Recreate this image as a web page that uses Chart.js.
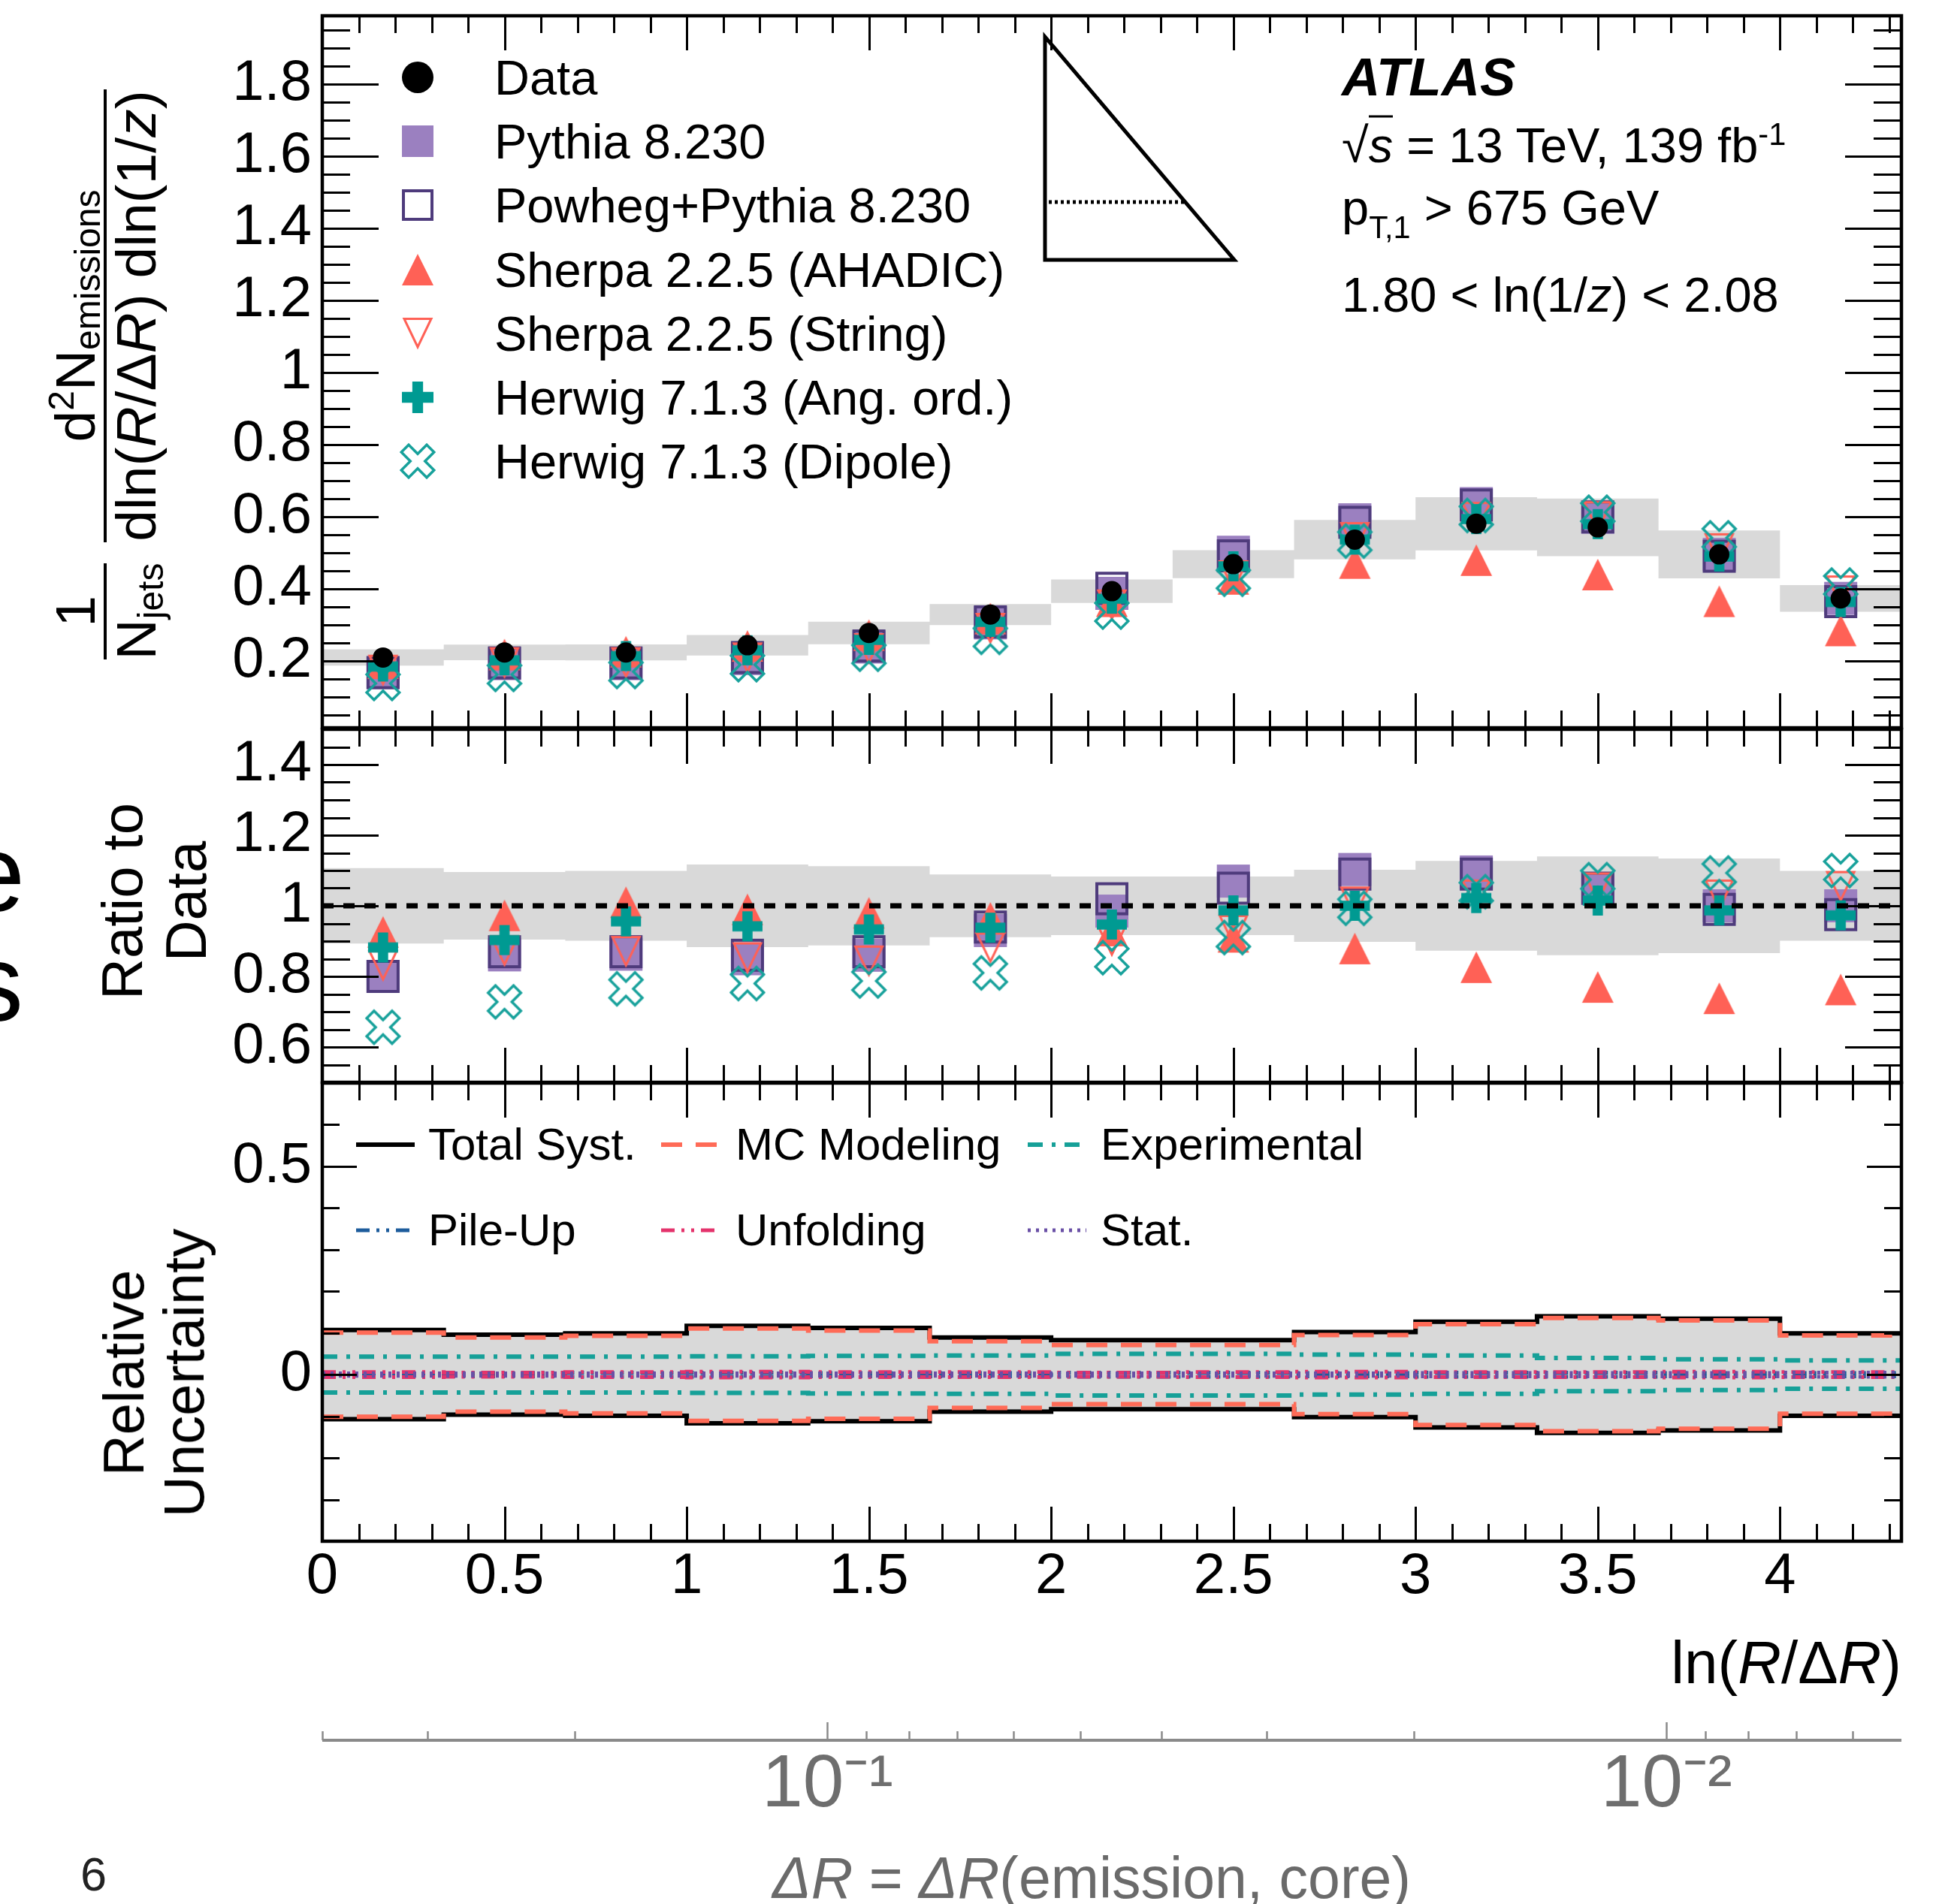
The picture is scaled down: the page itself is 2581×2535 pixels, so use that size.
<!DOCTYPE html>
<html>
<head>
<meta charset="utf-8">
<title>Lund plane slice, 1.80 &lt; ln(1/z) &lt; 2.08</title>
<script src="https://cdn.jsdelivr.net/npm/chart.js@4.4.1/dist/chart.umd.min.js"></script>
<style>
  html, body { margin: 0; padding: 0; background: #fff; }
  #page { position: relative; width: 2581px; height: 2535px; overflow: hidden;
          font-family: "Liberation Sans", Arial, Helvetica, sans-serif; color: #000; }
  #page canvas.panel { position: absolute; left: 0; }
  .t { position: absolute; white-space: nowrap; line-height: 1; transform: translateY(-50%); }
  .t sub, .t sup, #ytitle sub, #ytitle sup { line-height: 0; font-size: 0.64em; }
  .rot { position: absolute; white-space: nowrap; text-align: center; font-size: 76px;
         transform: translate(-50%, -50%) rotate(-90deg); }
  #ytitle { position: absolute; left: 0; top: 0; transform-origin: 0 0;
            transform: translate(60px, 878px) rotate(-90deg);
            display: flex; align-items: flex-start; font-size: 75px; line-height: 1; white-space: nowrap; }
  .frac { display: flex; flex-direction: column; align-items: center; }
  .frac .num { height: 78px; display: flex; align-items: flex-end; }
  .frac .bar { height: 4px; width: 100%; background: #000; }
  .frac .den { height: 80px; padding-top: 2px; }
  .ov { border-top: 3px solid #000; }
  .big { position: absolute; left: -200px; font-size: 144px; line-height: 1; text-align: right; }
</style>
</head>
<body>
<div id="page">
  <canvas id="top" class="panel" width="2581" height="990" style="top:0"></canvas>
  <canvas id="ratio" class="panel" width="2581" height="512" style="top:950px"></canvas>
  <canvas id="unc" class="panel" width="2581" height="730" style="top:1422px"></canvas>
  <canvas id="dr" class="panel" width="2581" height="170" style="top:2270px"></canvas>

  <!-- Lund plane sketch -->
  <svg style="position:absolute;left:0;top:0" width="2581" height="420">
    <path d="M1391 49 L1391 346 L1643 346 Z" fill="none" stroke="#000" stroke-width="5"/>
    <line x1="1396" y1="269" x2="1577" y2="269" stroke="#000" stroke-width="5" stroke-dasharray="4 4"/>
  </svg>

  <div class="t" style="left:1786px;top:102px;font-size:71px;font-weight:bold;font-style:italic">ATLAS</div>
  <div class="t" style="left:1786px;top:193px;font-size:65px">√<span class="ov"><i>s</i></span> = 13 TeV, 139 fb<sup>-1</sup></div>
  <div class="t" style="left:1786px;top:276px;font-size:65px">p<sub style="vertical-align:-0.45em">T,1</sub> &gt; 675 GeV</div>
  <div class="t" style="left:1786px;top:392px;font-size:65px">1.80 &lt; ln(1/<i>z</i>) &lt; 2.08</div>

  <div id="ytitle">
    <div class="frac" style="width:128px">
      <div class="num"><span>1</span></div><div class="bar"></div>
      <div class="den">N<sub style="vertical-align:-10px;font-size:48px">jets</sub></div>
    </div>
    <div style="width:28px"></div>
    <div class="frac" style="width:603px">
      <div class="num"><span>d<sup style="vertical-align:28px;font-size:48px">2</sup>N<sub style="vertical-align:-7px;font-size:48px">emissions</sub></span></div>
      <div class="bar"></div>
      <div class="den">dln(<i>R</i>/Δ<i>R</i>) dln(1/<i>z</i>)</div>
    </div>
  </div>
  <div class="rot" style="left:205px;top:1200px;line-height:85px">Ratio to<br>Data</div>
  <div class="rot" style="left:205px;top:1828px;line-height:80px">Relative<br>Uncertainty</div>

  <div class="t" style="right:50px;top:2214px;font-size:80px">ln(<i>R</i>/Δ<i>R</i>)</div>
  <div class="t" style="left:1453px;top:2500px;font-size:77px;color:#6a6a6a;transform:translate(-50%,-50%)"><i>ΔR</i> = <i>ΔR</i>(emission, core)</div>
  <div class="t" style="left:107px;top:2495px;font-size:63px;color:#222">6</div>
  <div class="big" style="top:1092px;width:233px">e</div>
  <div class="big" style="top:1238px;width:231px">s</div>
</div>

<script>
// bins in ln(R/dR), width 1/3
const binEdges = [0, 1/3, 2/3, 1, 4/3, 5/3, 2, 7/3, 8/3, 3, 10/3, 11/3, 4, 13/3];
const binCenters = [1/6, 1/2, 5/6, 7/6, 3/2, 11/6, 13/6, 5/2, 17/6, 19/6, 7/2, 23/6, 25/6];

const seriesNames = ['Data', 'Pythia 8.230', 'Powheg+Pythia 8.230', 'Sherpa 2.2.5 (AHADIC)',
  'Sherpa 2.2.5 (String)', 'Herwig 7.1.3 (Ang. ord.)', 'Herwig 7.1.3 (Dipole)'];

// top panel: 1/Njets d2N/dln(R/dR)dln(1/z)
const dataVals   = [0.210, 0.224, 0.224, 0.244, 0.278, 0.329, 0.394, 0.469, 0.537, 0.581, 0.571, 0.496, 0.374];
const pythiaVals = [0.168, 0.193, 0.193, 0.207, 0.239, 0.306, 0.388, 0.502, 0.592, 0.637, 0.599, 0.496, 0.374];
const powhegVals = [0.168, 0.195, 0.195, 0.210, 0.242, 0.309, 0.402, 0.492, 0.585, 0.633, 0.600, 0.491, 0.365];
const ahadicVals = [0.194, 0.218, 0.226, 0.242, 0.272, 0.318, 0.366, 0.428, 0.472, 0.480, 0.440, 0.366, 0.285];
const stringVals = [0.174, 0.195, 0.195, 0.208, 0.234, 0.290, 0.355, 0.436, 0.542, 0.598, 0.600, 0.511, 0.394];
const angVals    = [0.185, 0.202, 0.214, 0.230, 0.259, 0.309, 0.373, 0.463, 0.537, 0.594, 0.580, 0.490, 0.364];
const dipoleVals = [0.138, 0.163, 0.171, 0.190, 0.219, 0.266, 0.336, 0.427, 0.533, 0.604, 0.613, 0.542, 0.411];

// middle panel: MC / data
const pythiaRatio = [0.800, 0.861, 0.863, 0.850, 0.860, 0.930, 0.985, 1.070, 1.103, 1.096, 1.049, 1.000, 1.000];
const powhegRatio = [0.800, 0.870, 0.870, 0.860, 0.870, 0.940, 1.020, 1.050, 1.090, 1.090, 1.050, 0.990, 0.975];
const ahadicRatio = [0.926, 0.973, 1.010, 0.990, 0.980, 0.966, 0.930, 0.912, 0.879, 0.826, 0.770, 0.738, 0.763];
const stringRatio = [0.830, 0.872, 0.870, 0.852, 0.843, 0.880, 0.900, 0.930, 1.010, 1.030, 1.050, 1.030, 1.054];
const angRatio    = [0.882, 0.903, 0.956, 0.942, 0.933, 0.938, 0.947, 0.987, 1.000, 1.022, 1.015, 0.987, 0.973];
const dipoleRatio = [0.656, 0.728, 0.765, 0.780, 0.787, 0.810, 0.853, 0.910, 0.993, 1.040, 1.074, 1.093, 1.100];

// bottom panel: relative uncertainties
const uncNames = ['Total Syst.', 'MC Modeling', 'Experimental', 'Pile-Up', 'Unfolding', 'Stat.'];
const totalSyst    = [0.107, 0.096, 0.099, 0.117, 0.112, 0.089, 0.083, 0.083, 0.102, 0.127, 0.140, 0.134, 0.099];
const mcModeling   = [0.101, 0.089, 0.093, 0.111, 0.106, 0.080, 0.071, 0.071, 0.095, 0.121, 0.136, 0.130, 0.094];
const experimental = [0.043, 0.043, 0.043, 0.044, 0.045, 0.046, 0.050, 0.050, 0.048, 0.046, 0.040, 0.037, 0.034];
const pileUp       = [0.004, 0.004, 0.005, 0.005, 0.004, 0.004, 0.005, 0.005, 0.004, 0.005, 0.005, 0.004, 0.004];
const unfolding    = [0.006, 0.005, 0.006, 0.007, 0.006, 0.006, 0.005, 0.006, 0.007, 0.006, 0.006, 0.007, 0.006];
const statUnc      = [0.003, 0.003, 0.003, 0.003, 0.003, 0.003, 0.003, 0.003, 0.003, 0.004, 0.004, 0.004, 0.005];

// axis ticks
const xMajorTicks = [0, 0.5, 1, 1.5, 2, 2.5, 3, 3.5, 4];
const topYTicks = [0.2, 0.4, 0.6, 0.8, 1, 1.2, 1.4, 1.6, 1.8];
const ratioYTicks = [0.6, 0.8, 1, 1.2, 1.4];
const uncYTicks = [0, 0.5];
const drTicks = [0.4, 0.3, 0.2, 0.1, 0.09, 0.08, 0.07, 0.06, 0.05, 0.04, 0.03, 0.02, 0.01, 0.009, 0.008, 0.007, 0.006];
const drLabels = { 0.1: '10⁻¹', 0.01: '10⁻²' };

const C = { pythia: '#9b80c0', powheg: '#4e3b7c', sherpa: '#ff6156', herwig: '#009a92',
            dipole: '#17a19b', band: '#d9d9d9' };
const uncStyles = [
  { color: '#000000', width: 6, dash: [] },
  { color: '#ff6b57', width: 6, dash: [28, 18] },
  { color: '#16a098', width: 6, dash: [20, 12, 5, 12] },
  { color: '#1d5c9c', width: 5, dash: [18, 9, 4, 9, 4, 9] },
  { color: '#e4336c', width: 5, dash: [18, 9, 4, 9, 4, 9] },
  { color: '#6a50a6', width: 5, dash: [4, 7] }
];

const LEFT = 429;      // left edge of the frames
const RIGHT_PAD = 50;  // canvas right edge minus frame right edge

Chart.defaults.font.family = '"Liberation Sans", Arial, Helvetica, sans-serif';
Chart.defaults.color = '#000';

function range(a, b, step) {
  const out = [];
  for (let v = a; v <= b + 1e-9; v += step) out.push(+v.toFixed(4));
  return out;
}

// ROOT style markers drawn once into small canvases
function mk(kind, size, color, lw) {
  const c = document.createElement('canvas');
  const s = Math.ceil(size) + 6;
  c.width = s; c.height = s;
  const g = c.getContext('2d');
  const h = size / 2;
  g.translate(s / 2, s / 2);
  g.fillStyle = color; g.strokeStyle = color; g.lineWidth = lw || 1; g.lineJoin = 'miter';
  g.beginPath();
  if (kind === 'circle') { g.arc(0, 0, h, 0, 2 * Math.PI); g.fill(); }
  else if (kind === 'square') { g.rect(-h, -h, size, size); g.fill(); }
  else if (kind === 'osquare') { g.rect(-h + lw / 2, -h + lw / 2, size - lw, size - lw); g.stroke(); }
  else if (kind === 'tri') { g.moveTo(0, -h); g.lineTo(h, h); g.lineTo(-h, h); g.closePath(); g.fill(); }
  else if (kind === 'otri') {
    const k = h - lw;
    g.moveTo(-k, -h + lw / 2); g.lineTo(k, -h + lw / 2); g.lineTo(0, h - lw); g.closePath(); g.stroke();
  }
  else if (kind === 'plus') {
    const w = size * 0.17;
    g.rect(-w, -h, 2 * w, size); g.rect(-h, -w, size, 2 * w); g.fill();
  }
  else if (kind === 'ox') {
    const w = size * 0.15, L = size / Math.SQRT2 - w - lw / 2;
    g.rotate(Math.PI / 4);
    const pts = [[w, -L], [w, -w], [L, -w], [L, w], [w, w], [w, L], [-w, L], [-w, w], [-L, w], [-L, -w], [-w, -w], [-w, -L]];
    pts.forEach(([px, py], i) => (i ? g.lineTo(px, py) : g.moveTo(px, py)));
    g.closePath(); g.stroke();
  }
  return c;
}

const markers = {
  pythia: mk('square', 44, C.pythia),
  powheg: mk('osquare', 44, C.powheg, 4),
  ahadic: mk('tri', 42, C.sherpa),
  string: mk('otri', 42, C.sherpa, 3),
  ang: mk('plus', 40, C.herwig),
  dipole: mk('ox', 46, C.dipole, 3.5)
};

function pointsAt(vals) { return vals.map((v, i) => ({ x: binCenters[i], y: v })); }
function stepPoints(vals) {
  const pts = vals.map((v, i) => ({ x: binEdges[i], y: v }));
  pts.push({ x: binEdges[vals.length], y: vals[vals.length - 1] });
  return pts;
}

// frame + inward ticks on all four sides, ROOT style
function frameTicks(cfg) {
  return {
    id: 'frameTicks',
    afterDatasetsDraw(chart) {
      const { ctx, chartArea: a, scales: { x, y } } = chart;
      ctx.save();
      ctx.strokeStyle = '#000';
      ctx.lineWidth = 3;
      ctx.beginPath();
      const xs = [...range(0, 4.3, 0.1).map(v => [v, 23]), ...xMajorTicks.map(v => [v, 46])];
      xs.forEach(([v, len]) => {
        const px = Math.round(x.getPixelForValue(v)) + 0.5;
        if (px < a.left || px > a.right) return;
        ctx.moveTo(px, a.bottom); ctx.lineTo(px, a.bottom - len);
        ctx.moveTo(px, a.top); ctx.lineTo(px, a.top + len);
      });
      const ys = [...cfg.yMinor.map(v => [v, cfg.yLen[1]]), ...cfg.yMajor.map(v => [v, cfg.yLen[0]])];
      ys.forEach(([v, len]) => {
        const py = Math.round(y.getPixelForValue(v)) + 0.5;
        if (py <= a.top + 2 || py >= a.bottom - 2) return;
        ctx.moveTo(a.left, py); ctx.lineTo(a.left + len, py);
        ctx.moveTo(a.right, py); ctx.lineTo(a.right - len, py);
      });
      ctx.stroke();
      ctx.lineWidth = 4.5;
      ctx.strokeRect(a.left, a.top, a.right - a.left, a.bottom - a.top);
      ctx.restore();
    }
  };
}

function yAxis(min, max, ticks) {
  return {
    type: 'linear', min, max, bounds: 'data',
    grid: { display: false, drawTicks: false },
    border: { display: false },
    afterBuildTicks: s => { s.ticks = ticks.map(v => ({ value: v })); },
    afterFit: s => { s.width = LEFT; s.paddingTop = 0; s.paddingBottom = 0; },
    ticks: { autoSkip: false, padding: 14, font: { size: 76 }, color: '#000',
             callback: v => String(Number(Number(v).toFixed(2))) }
  };
}
const xHidden = { type: 'linear', min: 0, max: 13 / 3, display: false };

function baseOptions(padding, scales) {
  return {
    responsive: false, animation: false, devicePixelRatio: 1, events: [],
    layout: { padding },
    plugins: { legend: { display: false }, tooltip: { enabled: false } },
    scales
  };
}

function markerSet(vals) {
  return [
    { data: pointsAt(vals[5]), showLine: false, pointStyle: markers.ang, pointRadius: 20, order: 1 },
    { data: pointsAt(vals[6]), showLine: false, pointStyle: markers.dipole, pointRadius: 20, order: 2 },
    { data: pointsAt(vals[4]), showLine: false, pointStyle: markers.string, pointRadius: 20, order: 3 },
    { data: pointsAt(vals[3]), showLine: false, pointStyle: markers.ahadic, pointRadius: 20, order: 4 },
    { data: pointsAt(vals[2]), showLine: false, pointStyle: markers.powheg, pointRadius: 20, order: 5 },
    { data: pointsAt(vals[1]), showLine: false, pointStyle: markers.pythia, pointRadius: 20, order: 6 }
  ];
}
function band(hi, lo) {
  return [
    { data: stepPoints(hi), stepped: 'before', borderWidth: 0, pointRadius: 0, fill: '+1', backgroundColor: C.band, order: 20 },
    { data: stepPoints(lo), stepped: 'before', borderWidth: 0, pointRadius: 0, fill: false, order: 21 }
  ];
}

// ---- top panel
new Chart(document.getElementById('top'), {
  type: 'line',
  data: {
    datasets: [
      ...band(dataVals.map((v, i) => v * (1 + totalSyst[i])), dataVals.map((v, i) => v * (1 - totalSyst[i]))),
      { data: pointsAt(dataVals), showLine: false, pointStyle: 'circle', pointRadius: 13.5,
        pointBackgroundColor: '#000', pointBorderWidth: 0, order: 0 },
      ...markerSet([dataVals, pythiaVals, powhegVals, ahadicVals, stringVals, angVals, dipoleVals])
    ]
  },
  options: baseOptions({ top: 16, right: RIGHT_PAD, bottom: 20, left: 0 },
    { x: xHidden, y: yAxis(0.015, 1.99, topYTicks) }),
  plugins: [frameTicks({ yMajor: topYTicks, yMinor: range(0.05, 1.95, 0.05), yLen: [75, 37] })]
});

// ---- ratio panel
new Chart(document.getElementById('ratio'), {
  type: 'line',
  data: {
    datasets: [
      ...band(totalSyst.map(u => 1 + u), totalSyst.map(u => 1 - u)),
      { data: [{ x: binEdges[0], y: 1 }, { x: binEdges[13], y: 1 }], borderColor: '#000', borderWidth: 7,
        borderDash: [15, 13], pointRadius: 0, order: 0 },
      ...markerSet([null, pythiaRatio, powhegRatio, ahadicRatio, stringRatio, angRatio, dipoleRatio])
    ]
  },
  options: baseOptions({ top: 20, right: RIGHT_PAD, bottom: 20, left: 0 },
    { x: xHidden, y: yAxis(0.5, 1.5, ratioYTicks) }),
  plugins: [frameTicks({ yMajor: ratioYTicks, yMinor: range(0.55, 1.45, 0.05), yLen: [75, 37] })]
});

// ---- uncertainty panel
const uncSeries = [totalSyst, mcModeling, experimental, pileUp, unfolding, statUnc];
const uncDatasets = [];
uncSeries.forEach((vals, k) => {
  const st = uncStyles[k];
  const common = { stepped: 'before', pointRadius: 0, borderColor: st.color, borderWidth: st.width,
                   borderDash: st.dash, order: 20 - 2 * k };
  uncDatasets.push(Object.assign({ data: stepPoints(vals), fill: k === 0 ? '+1' : false,
                                   backgroundColor: C.band }, common));
  uncDatasets.push(Object.assign({ data: stepPoints(vals.map(v => -v)), fill: false }, common, { order: 19 - 2 * k }));
});
new Chart(document.getElementById('unc'), {
  type: 'line',
  data: { datasets: uncDatasets },
  options: baseOptions({ top: 20, right: RIGHT_PAD, bottom: 0, left: 0 }, {
    x: {
      type: 'linear', min: 0, max: 13 / 3, bounds: 'data',
      grid: { display: false, drawTicks: false }, border: { display: false },
      afterBuildTicks: s => { s.ticks = xMajorTicks.map(v => ({ value: v })); },
      afterFit: s => { s.height = 100; s.paddingLeft = 0; s.paddingRight = 0; },
      ticks: { autoSkip: false, maxRotation: 0, padding: 2, font: { size: 76 }, color: '#000',
               callback: v => String(v) }
    },
    y: yAxis(-0.4, 0.7, uncYTicks)
  }),
  plugins: [frameTicks({ yMajor: uncYTicks, yMinor: range(-0.3, 0.6, 0.1), yLen: [46, 23] })]
});

// ---- secondary axis: dR = R exp(-x), R = 0.4
const drAxis = {
  id: 'drAxis',
  afterDraw(chart) {
    const { ctx, chartArea: a, scales: { x } } = chart;
    ctx.save();
    ctx.strokeStyle = '#8a8a8a';
    ctx.lineWidth = 2.5;
    ctx.beginPath();
    x.ticks.forEach(t => {
      const px = Math.round(x.getPixelForValue(t.value)) + 0.5;
      const len = drLabels[t.value] ? 24 : 12;
      ctx.moveTo(px, a.bottom); ctx.lineTo(px, a.bottom - len);
    });
    ctx.stroke();
    ctx.lineWidth = 4;
    ctx.beginPath(); ctx.moveTo(a.left, a.bottom); ctx.lineTo(a.right, a.bottom); ctx.stroke();
    ctx.restore();
  }
};
new Chart(document.getElementById('dr'), {
  type: 'line',
  data: { datasets: [] },
  options: baseOptions({ top: 0, right: RIGHT_PAD, bottom: 0, left: LEFT }, {
    x: {
      type: 'logarithmic', reverse: true, min: 0.00525, max: 0.4, bounds: 'data',
      grid: { display: false, drawTicks: false }, border: { display: false },
      afterBuildTicks: s => { s.ticks = drTicks.map(v => ({ value: v })); },
      afterFit: s => { s.height = 123; s.paddingLeft = 0; s.paddingRight = 0; },
      ticks: { autoSkip: false, maxRotation: 0, padding: 2, font: { size: 98 }, color: '#6e6e6e',
               callback: v => drLabels[v] || '' }
    },
    y: { display: false }
  }),
  plugins: [drAxis]
});

// ---- legends
const page = document.getElementById('page');
const legendMarkers = [mk('circle', 42, '#000'), mk('square', 42, C.pythia), mk('osquare', 42, C.powheg, 4),
  mk('tri', 42, C.sherpa), mk('otri', 42, C.sherpa, 3), mk('plus', 42, C.herwig), mk('ox', 46, C.dipole, 3.5)];
seriesNames.forEach((name, i) => {
  const y = 103 + 85.2 * i;
  const m = legendMarkers[i];
  m.style.cssText = `position:absolute;left:${556 - m.width / 2}px;top:${y - m.height / 2}px`;
  page.appendChild(m);
  const d = document.createElement('div');
  d.className = 't';
  d.style.cssText = `left:658px;top:${y}px;font-size:65px`;
  d.textContent = name;
  page.appendChild(d);
});

const uncLegendPos = [[474, 570, 1524], [880, 979, 1524], [1368, 1465, 1524],
                      [474, 570, 1638], [880, 979, 1638], [1368, 1465, 1638]];
uncNames.forEach((name, k) => {
  const [lx, tx, y] = uncLegendPos[k];
  const st = uncStyles[k];
  const c = document.createElement('canvas');
  c.width = 78; c.height = 14;
  const g = c.getContext('2d');
  g.strokeStyle = st.color; g.lineWidth = st.width; g.setLineDash(st.dash);
  g.beginPath(); g.moveTo(0, 7); g.lineTo(78, 7); g.stroke();
  c.style.cssText = `position:absolute;left:${lx}px;top:${y - 7}px`;
  page.appendChild(c);
  const d = document.createElement('div');
  d.className = 't';
  d.style.cssText = `left:${tx}px;top:${y}px;font-size:60px`;
  d.textContent = name;
  page.appendChild(d);
});
</script>
</body>
</html>
